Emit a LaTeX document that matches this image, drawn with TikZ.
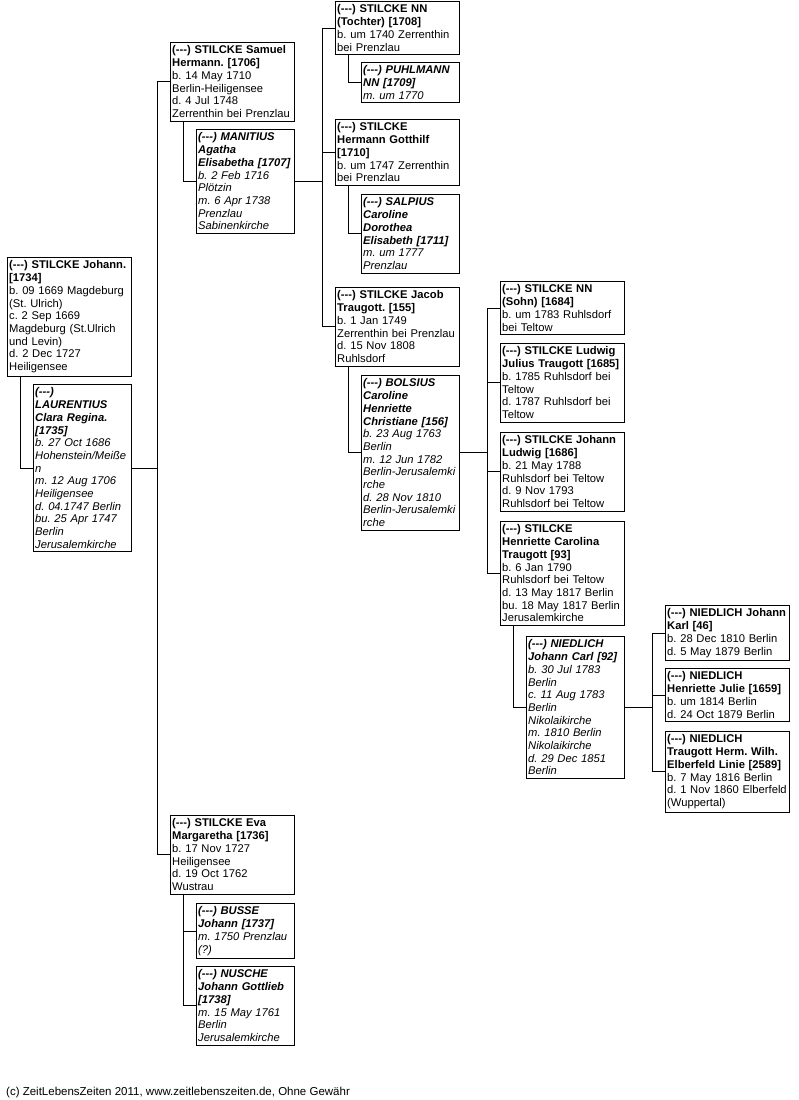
\documentclass[tikz,border=0pt]{standalone}
\usepackage{fontspec}
\setmainfont{Liberation Sans}
\usepackage{tikz}
\usetikzlibrary{calc}
\newcommand{\nnid}{(\mbox{-}\mbox{-}\mbox{-})}
\frenchspacing
\hyphenpenalty=10000
\exhyphenpenalty=10000

\begin{document}
\begin{tikzpicture}[x=1pt, y=-1pt,
  person/.style={draw, line width=0.9pt, anchor=north west, align=left,
    text width=120.5pt, inner xsep=1.75pt, inner ysep=3.4pt,
    font=\fontsize{11.2}{12.7}\selectfont},
  spouse/.style={person, text width=94.5pt, font=\fontsize{11.2}{12.7}\selectfont\itshape},
  link/.style={line width=0.9pt}]
\useasboundingbox (0,0) rectangle (798,1100);
% ---------- generation 1 ----------
\node[person] (johann) at (7,257) {{\bfseries \nnid{} STILCKE Johann.\\{}[1734]}\\
  b. 09 1669 Magdeburg\\(St. Ulrich)\\c. 2 Sep 1669\\Magdeburg (St.Ulrich\\und Levin)\\d. 2 Dec 1727\\Heiligensee};
\node[spouse] (laurentius) at (33,384) {{\bfseries \nnid\\LAURENTIUS\\Clara Regina.\\{}[1735]}\\
  b. 27 Oct 1686\\Hohenstein/Meiße\\n\\m. 12 Aug 1706\\Heiligensee\\d. 04.1747 Berlin\\bu. 25 Apr 1747\\Berlin\\Jerusalemkirche};
\draw[link] ([xshift=13pt]johann.south west) |- (laurentius.west);
% ---------- generation 2 ----------
\node[person] (samuel) at (170,42) {{\bfseries \nnid{} STILCKE Samuel\\Hermann. [1706]}\\
  b. 14 May 1710\\Berlin-Heiligensee\\d. 4 Jul 1748\\Zerrenthin bei Prenzlau};
\node[spouse] (manitius) at (196,129) {{\bfseries \nnid{} MANITIUS\\Agatha\\Elisabetha [1707]}\\
  b. 2 Feb 1716\\Plötzin\\m. 6 Apr 1738\\Prenzlau\\Sabinenkirche};
\draw[link] ([xshift=13pt]samuel.south west) |- (manitius.west);
\node[person] (eva) at (170,815) {{\bfseries \nnid{} STILCKE Eva\\Margaretha [1736]}\\
  b. 17 Nov 1727\\Heiligensee\\d. 19 Oct 1762\\Wustrau};
\node[spouse] (busse) at (196,903) {{\bfseries \nnid{} BUSSE\\Johann [1737]}\\
  m. 1750 Prenzlau\\(?)};
\node[spouse] (nusche) at (196,966) {{\bfseries \nnid{} NUSCHE\\Johann Gottlieb\\{}[1738]}\\
  m. 15 May 1761\\Berlin\\Jerusalemkirche};
\draw[link] ([xshift=13pt]eva.south west) |- (nusche.west);
\draw[link] ([xshift=-13pt]busse.west) -- (busse.west);
% trunk 1
\coordinate (t1) at ([xshift=-13pt]samuel.west);
\draw[link] (t1) -- (t1 |- eva.west);
\draw[link] (t1) -- (samuel.west);
\draw[link] (t1 |- eva.west) -- (eva.west);
\draw[link] (laurentius.east) -- (laurentius.east -| t1);
% ---------- generation 3 ----------
\node[person] (tochter) at (335,1) {{\bfseries \nnid{} STILCKE NN\\(Tochter) [1708]}\\
  b. um 1740 Zerrenthin\\bei Prenzlau};
\node[spouse] (puhlmann) at (361,62) {{\bfseries \nnid{} PUHLMANN\\NN [1709]}\\m. um 1770};
\draw[link] ([xshift=13pt]tochter.south west) |- (puhlmann.west);
\node[person] (gotthilf) at (335,119) {{\bfseries \nnid{} STILCKE\\Hermann Gotthilf\\{}[1710]}\\
  b. um 1747 Zerrenthin\\bei Prenzlau};
\node[spouse] (salpius) at (361,194) {{\bfseries \nnid{} SALPIUS\\Caroline\\Dorothea\\Elisabeth [1711]}\\
  m. um 1777\\Prenzlau};
\draw[link] ([xshift=13pt]gotthilf.south west) |- (salpius.west);
\node[person] (jacob) at (335,287) {{\bfseries \nnid{} STILCKE Jacob\\Traugott. [155]}\\
  b. 1 Jan 1749\\Zerrenthin bei Prenzlau\\d. 15 Nov 1808\\Ruhlsdorf};
\node[spouse] (bolsius) at (361,375) {{\bfseries \nnid{} BOLSIUS\\Caroline\\Henriette\\Christiane [156]}\\
  b. 23 Aug 1763\\Berlin\\m. 12 Jun 1782\\Berlin-Jerusalemki\\rche\\d. 28 Nov 1810\\Berlin-Jerusalemki\\rche};
\draw[link] ([xshift=13pt]jacob.south west) |- (bolsius.west);
% trunk 2
\coordinate (t2) at ([xshift=-13pt]tochter.west);
\draw[link] (t2) -- (t2 |- jacob.west);
\foreach \n in {tochter,gotthilf,jacob}
  \draw[link] (t2 |- \n.west) -- (\n.west);
\draw[link] (manitius.east) -- (manitius.east -| t2);
% ---------- generation 4 ----------
\node[person] (sohn) at (500,281) {{\bfseries \nnid{} STILCKE NN\\(Sohn) [1684]}\\
  b. um 1783 Ruhlsdorf\\bei Teltow};
\node[person] (ludwig) at (500,343) {{\bfseries \nnid{} STILCKE Ludwig\\Julius Traugott [1685]}\\
  b. 1785 Ruhlsdorf bei\\Teltow\\d. 1787 Ruhlsdorf bei\\Teltow};
\node[person] (johludwig) at (500,432) {{\bfseries \nnid{} STILCKE Johann\\Ludwig [1686]}\\
  b. 21 May 1788\\Ruhlsdorf bei Teltow\\d. 9 Nov 1793\\Ruhlsdorf bei Teltow};
\node[person] (henriette) at (500,521) {{\bfseries \nnid{} STILCKE\\Henriette Carolina\\Traugott [93]}\\
  b. 6 Jan 1790\\Ruhlsdorf bei Teltow\\d. 13 May 1817 Berlin\\bu. 18 May 1817 Berlin\\Jerusalemkirche};
\node[spouse] (niedlich) at (526,636) {{\bfseries \nnid{} NIEDLICH\\Johann Carl [92]}\\
  b. 30 Jul 1783\\Berlin\\c. 11 Aug 1783\\Berlin\\Nikolaikirche\\m. 1810 Berlin\\Nikolaikirche\\d. 29 Dec 1851\\Berlin};
\draw[link] ([xshift=13pt]henriette.south west) |- (niedlich.west);
% trunk 3
\coordinate (t3) at ([xshift=-13pt]sohn.west);
\draw[link] (t3) -- (t3 |- henriette.west);
\foreach \n in {sohn,ludwig,johludwig,henriette}
  \draw[link] (t3 |- \n.west) -- (\n.west);
\draw[link] (bolsius.east) -- (bolsius.east -| t3);
% ---------- generation 5 ----------
\node[person] (karl) at (665,605) {{\bfseries \nnid{} NIEDLICH Johann\\Karl [46]}\\
  b. 28 Dec 1810 Berlin\\d. 5 May 1879 Berlin};
\node[person] (julie) at (665,668) {{\bfseries \nnid{} NIEDLICH\\Henriette Julie [1659]}\\
  b. um 1814 Berlin\\d. 24 Oct 1879 Berlin};
\node[person] (traugott) at (665,731) {{\bfseries \nnid{} NIEDLICH\\Traugott Herm. Wilh.\\Elberfeld Linie [2589]}\\
  b. 7 May 1816 Berlin\\d. 1 Nov 1860 Elberfeld\\(Wuppertal)};
% trunk 4
\coordinate (t4) at ([xshift=-13pt]karl.west);
\draw[link] (t4) -- (t4 |- traugott.west);
\foreach \n in {karl,julie,traugott}
  \draw[link] (t4 |- \n.west) -- (\n.west);
\draw[link] (niedlich.east) -- (niedlich.east -| t4);
% ---------- footer ----------
\node[anchor=base west, inner sep=0pt, font=\fontsize{11.5}{13}\selectfont] (footer) at (6,1095)
  {(c) ZeitLebensZeiten 2011, www.zeitlebenszeiten.de, Ohne Gewähr};
\end{tikzpicture}
\end{document}
